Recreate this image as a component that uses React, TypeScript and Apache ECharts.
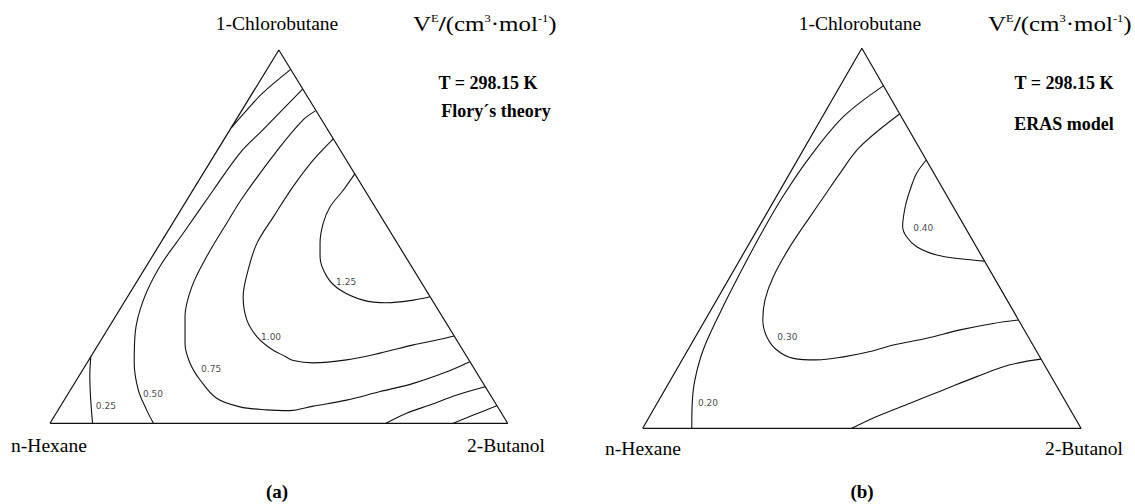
import React, { useEffect, useRef } from "react";
import * as echarts from "echarts";

// Triangle-plane coordinates: x grows toward 2-Butanol, y toward 1-Chlorobutane.
// n-Hexane corner = (0,0), 2-Butanol corner = (1,0), 1-Chlorobutane apex = (0.5,1).
const cornerTop = "1-Chlorobutane";
const cornerLeft = "n-Hexane";
const cornerRight = "2-Butanol";
const triangle: number[][] = [[0, 0], [1, 0], [0.5, 1], [0, 0]];

// ---- Panel (a): Flory's theory ----
const floryLevels = ["0.25", "0.50", "0.75", "1.00", "1.25"];
const flory025Top = [[0.526, 0.948], [0.465, 0.885], [0.43, 0.839], [0.397, 0.793]];
const flory025Left = [[0.089, 0.178], [0.087, 0.125], [0.089, 0.062], [0.093, 0]];
const flory025Right = [[0.881, 0], [0.925, 0.022], [0.976, 0.047]];
const flory050 = [[0.552, 0.895], [0.465, 0.786], [0.415, 0.724], [0.357, 0.625], [0.291, 0.509], [0.24, 0.42], [0.204, 0.33], [0.186, 0.241], [0.184, 0.161], [0.193, 0.089], [0.211, 0.036], [0.226, 0]];
const flory050Right = [[0.734, 0], [0.779, 0.027], [0.83, 0.049], [0.889, 0.076], [0.951, 0.098]];
const flory075 = [[0.58, 0.837], [0.553, 0.813], [0.503, 0.741], [0.422, 0.607], [0.386, 0.536], [0.342, 0.446], [0.31, 0.366], [0.295, 0.286], [0.295, 0.214], [0.306, 0.161], [0.328, 0.116], [0.364, 0.067], [0.415, 0.044], [0.473, 0.036], [0.524, 0.034], [0.575, 0.046], [0.648, 0.062], [0.721, 0.085], [0.794, 0.107], [0.867, 0.138], [0.917, 0.165]];
const flory100 = [[0.619, 0.762], [0.575, 0.705], [0.531, 0.634], [0.488, 0.553], [0.452, 0.482], [0.433, 0.411], [0.422, 0.339], [0.43, 0.277], [0.452, 0.232], [0.481, 0.201], [0.514, 0.179], [0.532, 0.168], [0.575, 0.162], [0.648, 0.17], [0.721, 0.188], [0.794, 0.21], [0.845, 0.223], [0.883, 0.234]];
const flory125 = [[0.666, 0.668], [0.641, 0.625], [0.612, 0.58], [0.597, 0.536], [0.59, 0.482], [0.59, 0.446], [0.605, 0.393], [0.634, 0.357], [0.684, 0.33], [0.736, 0.323], [0.794, 0.33], [0.83, 0.339]];
const floryLabelPos = [[0.122, 0.046], [0.225, 0.079], [0.352, 0.146], [0.483, 0.231], [0.647, 0.379]];

// ---- Panel (b): ERAS model ----
const erasLevels = ["0.20", "0.30", "0.40"];
const eras020 = [[0.549, 0.901], [0.458, 0.82], [0.382, 0.715], [0.322, 0.614], [0.275, 0.522], [0.222, 0.408], [0.176, 0.303], [0.138, 0.206], [0.119, 0.127], [0.113, 0.066], [0.112, 0]];
const eras030 = [[0.586, 0.827], [0.496, 0.741], [0.45, 0.671], [0.416, 0.614], [0.382, 0.557], [0.336, 0.478], [0.298, 0.399], [0.279, 0.338], [0.274, 0.285], [0.283, 0.241], [0.306, 0.206], [0.344, 0.184], [0.397, 0.18], [0.458, 0.188], [0.519, 0.202], [0.572, 0.219], [0.648, 0.237], [0.724, 0.259], [0.8, 0.276], [0.857, 0.285]];
const eras040 = [[0.647, 0.706], [0.625, 0.671], [0.61, 0.627], [0.599, 0.583], [0.593, 0.531], [0.602, 0.504], [0.625, 0.478], [0.671, 0.456], [0.724, 0.446], [0.779, 0.44]];
const erasLower = [[0.909, 0.182], [0.838, 0.167], [0.762, 0.136], [0.686, 0.101], [0.61, 0.066], [0.534, 0.031], [0.477, 0]];
const erasLabelPos = [[0.149, 0.067], [0.33, 0.24], [0.64, 0.527]];

const SERIF = '"Liberation Serif", "Times New Roman", serif';
const SANS = '"DejaVu Sans", sans-serif';

function lineSeries(data: number[][], idx: number, width = 1.1) {
  return {
    type: "line",
    xAxisIndex: idx,
    yAxisIndex: idx,
    data,
    smooth: 0.35,
    showSymbol: false,
    symbol: "none",
    clip: false,
    silent: true,
    lineStyle: { color: "#111", width },
  };
}

function labelSeries(pos: number[][], names: string[], idx: number) {
  return {
    type: "scatter",
    xAxisIndex: idx,
    yAxisIndex: idx,
    symbolSize: 1,
    silent: true,
    itemStyle: { color: "transparent" },
    data: pos.map((p, i) => ({ value: p, name: names[i] })),
    label: {
      show: true,
      position: "inside",
      formatter: "{b}",
      fontSize: 9,
      fontFamily: SANS,
      color: "#111",
    },
  };
}

function txt(text: string, x: number, y: number, size: number, bold = false, align = "center") {
  return {
    type: "text",
    x,
    y,
    silent: true,
    style: {
      text,
      fontSize: size,
      fontFamily: SERIF,
      fontWeight: bold ? "bold" : "normal",
      fill: "#000",
      align,
      verticalAlign: "middle",
    },
  };
}

function unitText(x: number, y: number) {
  return {
    type: "text",
    x,
    y,
    scaleX: 1.25,
    silent: true,
    style: {
      text: "{v|V}{s|E}{sl|/}{v|(cm}{s|3}{v|·mol}{s|-1}{v|)}",
      align: "left",
      verticalAlign: "middle",
      rich: {
        v: { fontSize: 20, fontFamily: SERIF, fill: "#000", lineHeight: 22 },
        s: { fontSize: 10, fontFamily: SERIF, fill: "#000", lineHeight: 14, verticalAlign: "top" },
        sl: { fontSize: 20, fontFamily: SERIF, fontWeight: "bold", fill: "#000", lineHeight: 22 },
      },
    },
  };
}

const option: any = {
  animation: false,
  backgroundColor: "#fff",
  grid: [
    { left: 50, top: 50, width: 457.7, height: 373.3 },
    { left: 642.7, top: 48.3, width: 438.3, height: 380 },
  ],
  xAxis: [0, 1].map((i) => ({ gridIndex: i, type: "value", min: 0, max: 1, show: false })),
  yAxis: [0, 1].map((i) => ({ gridIndex: i, type: "value", min: 0, max: 1, show: false })),
  series: [
    lineSeries(triangle, 0, 1.2),
    lineSeries(flory025Top, 0),
    lineSeries(flory025Left, 0),
    lineSeries(flory025Right, 0),
    lineSeries(flory050, 0),
    lineSeries(flory050Right, 0),
    lineSeries(flory075, 0),
    lineSeries(flory100, 0),
    lineSeries(flory125, 0),
    labelSeries(floryLabelPos, floryLevels, 0),
    lineSeries(triangle, 1, 1.2),
    lineSeries(eras020, 1),
    lineSeries(eras030, 1),
    lineSeries(eras040, 1),
    lineSeries(erasLower, 1),
    labelSeries(erasLabelPos, erasLevels, 1),
  ].map((s: any) => (s.type === "line" && s.data === triangle ? { ...s, smooth: false } : s)),
  graphic: [
    txt(cornerTop, 277, 23, 19.5),
    unitText(413, 24),
    txt("T = 298.15 K", 488, 83, 18, true),
    txt("Flory´s theory", 496, 111, 18, true),
    txt(cornerLeft, 49, 445, 19.5),
    txt(cornerRight, 506, 445, 19.5),
    txt("(a)", 277, 491, 19, true),
    txt(cornerTop, 860, 23, 19.5),
    unitText(988, 24),
    txt("T = 298.15 K", 1064, 83, 18, true),
    txt("ERAS model", 1064, 124, 18, true),
    txt(cornerLeft, 643, 448, 19.5),
    txt(cornerRight, 1084, 448, 19.5),
    txt("(b)", 862, 491, 19, true),
  ],
};

export default function App() {
  const ref = useRef<HTMLDivElement>(null);
  useEffect(() => {
    const chart = echarts.init(ref.current!, undefined, { renderer: "svg" });
    chart.setOption(option);
    return () => chart.dispose();
  }, []);
  return (
    <div
      ref={ref}
      style={{ position: "fixed", left: 0, top: 0, width: 1135, height: 504, background: "#fff" }}
    />
  );
}
